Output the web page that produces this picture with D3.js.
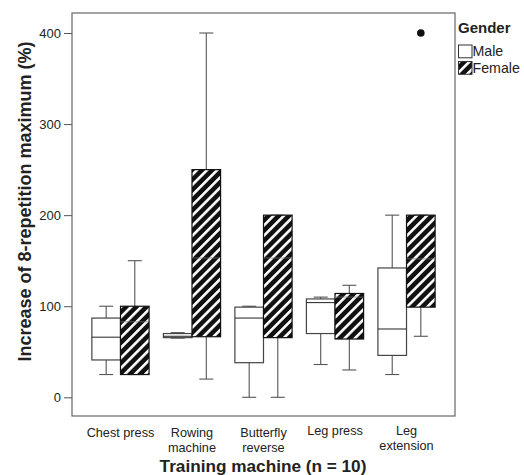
<!DOCTYPE html>
<html>
<head>
<meta charset="utf-8">
<script src="https://cdn.jsdelivr.net/npm/d3@7"></script>
<style>
  body { margin: 0; background: #fff; }
  text { font-family: "Liberation Sans", Arial, sans-serif; fill: #222; }
</style>
</head>
<body>
<svg id="chart" width="524" height="475"></svg>
<script>
const machines = ["Chest press", "Rowing machine", "Butterfly reverse", "Leg press", "Leg extension"];
const machineLabels = [["Chest press"], ["Rowing", "machine"], ["Butterfly", "reverse"], ["Leg press"], ["Leg", "extension"]];
const genders = ["Male", "Female"];
const yTicks = [0, 100, 200, 300, 400];

// [whiskerLow, q1, median, q3, whiskerHigh] per machine
const maleStats = [
  [25, 41, 66, 87, 100],
  [65, 65.5, 67, 70, 71],
  [0, 38, 87, 99, 100],
  [36, 70, 104, 108, 110],
  [25, 46, 75, 142, 200]
];
const femaleStats = [
  [25, 25, 83, 100, 150],
  [20, 66.5, 153, 250, 400],
  [0, 65.5, 153, 200, 200],
  [30, 64, 110, 114, 123],
  [67, 99, 152, 200, 200]
];
const outliers = [{ machine: "Leg extension", gender: "Female", value: 400 }];

const svg = d3.select("#chart");
const mLeft = 72, mRight = 455, mTop = 13, mBottom = 416;

const x = d3.scaleBand().domain(machines).range([mLeft, mRight]).paddingInner(0).paddingOuter(0.178);
const xg = d3.scaleBand().domain(genders).range([0, x.bandwidth() * 0.8]).padding(0);
const y = d3.scaleLinear().domain([0, 400]).range([397.3, 33]);

const defs = svg.append("defs");
const pat = defs.append("pattern")
  .attr("id", "hatch")
  .attr("patternUnits", "userSpaceOnUse")
  .attr("width", 7.2).attr("height", 7.2)
  .attr("patternTransform", "rotate(45)");
pat.append("rect").attr("width", 7.2).attr("height", 7.2).attr("fill", "#111");
pat.append("rect").attr("x", 0).attr("width", 2.6).attr("height", 7.2).attr("fill", "#fff");

// frame
svg.append("rect")
  .attr("x", mLeft).attr("y", mTop)
  .attr("width", mRight - mLeft).attr("height", mBottom - mTop)
  .attr("fill", "none").attr("stroke", "#666").attr("stroke-width", 1.2);

// y axis ticks
const yAxis = svg.append("g")
  .attr("transform", `translate(${mLeft},0)`)
  .call(d3.axisLeft(y).tickValues(yTicks).tickSize(8).tickPadding(3));
yAxis.select(".domain").remove();
yAxis.selectAll(".tick line").attr("stroke", "#555");
yAxis.selectAll(".tick text").style("font-size", "13px").attr("fill", "#333")
  .style("font-family", "Liberation Sans, Arial, sans-serif");

const series = [
  { gender: "Male", stats: maleStats, fill: "#fff", stroke: "#444" },
  { gender: "Female", stats: femaleStats, fill: "url(#hatch)", stroke: "#111" }
];
const bw = xg.bandwidth();
const offset = (x.bandwidth() - x.bandwidth() * 0.8) / 2;

series.forEach(s => {
  const g = svg.append("g");
  const items = g.selectAll("g.box").data(machines.map((m, i) => ({ m, v: s.stats[i] })))
    .join("g")
    .attr("transform", d => `translate(${x(d.m) + offset + xg(s.gender)},0)`);
  // whiskers
  items.append("line")
    .attr("x1", bw / 2).attr("x2", bw / 2)
    .attr("y1", d => y(d.v[4])).attr("y2", d => y(d.v[3]))
    .attr("stroke", "#555").attr("stroke-width", 1.1);
  items.append("line")
    .attr("x1", bw / 2).attr("x2", bw / 2)
    .attr("y1", d => y(d.v[1])).attr("y2", d => y(d.v[0]))
    .attr("stroke", "#555").attr("stroke-width", 1.1);
  items.append("line")
    .attr("x1", bw / 2 - 7).attr("x2", bw / 2 + 7)
    .attr("y1", d => y(d.v[4])).attr("y2", d => y(d.v[4]))
    .attr("stroke", "#555").attr("stroke-width", 1.1);
  items.append("line")
    .attr("x1", bw / 2 - 7).attr("x2", bw / 2 + 7)
    .attr("y1", d => y(d.v[0])).attr("y2", d => y(d.v[0]))
    .attr("stroke", "#555").attr("stroke-width", 1.1);
  // box
  items.append("rect")
    .attr("x", 0).attr("width", bw)
    .attr("y", d => y(d.v[3]))
    .attr("height", d => y(d.v[1]) - y(d.v[3]))
    .attr("fill", s.fill).attr("stroke", s.stroke).attr("stroke-width", 1.2);
  // median
  items.append("line")
    .attr("x1", 0).attr("x2", bw)
    .attr("y1", d => y(d.v[2])).attr("y2", d => y(d.v[2]))
    .attr("stroke", s.gender === "Male" ? "#333" : "#777").attr("stroke-width", 1.1)
    .attr("stroke-opacity", s.gender === "Male" ? 1 : 0.6);
});

// outliers
svg.selectAll("circle.out").data(outliers).join("circle")
  .attr("cx", d => x(d.machine) + offset + xg(d.gender) + bw / 2)
  .attr("cy", d => y(d.value))
  .attr("r", 3.8).attr("fill", "#111");

// x category labels (last two sit a little higher in the original)
const xl = svg.append("g");
machines.forEach((m, i) => {
  const lines = machineLabels[i];
  const cx = x(m) + x.bandwidth() / 2;
  const t = xl.append("text")
    .attr("x", cx)
    .attr("y", i >= 3 ? 435 : 437)
    .attr("text-anchor", "middle")
    .style("font-size", "12.7px").attr("fill", "#333");
  lines.forEach((ln, j) => {
    t.append("tspan").attr("x", cx).attr("dy", j === 0 ? 0 : 15).text(ln);
  });
});

// axis titles
svg.append("text")
  .attr("x", (mLeft + mRight) / 2 - 0.5).attr("y", 472)
  .attr("text-anchor", "middle")
  .style("font-size", "17.2px").style("font-weight", "bold")
  .text("Training machine (n = 10)");

svg.append("text")
  .attr("transform", `translate(30.5,201.5) rotate(-90)`)
  .attr("text-anchor", "middle")
  .style("font-size", "18px").style("font-weight", "bold")
  .text("Increase of 8-repetition maximum (%)");

// legend
const lg = svg.append("g").attr("transform", "translate(458,0)");
lg.append("text").attr("x", 0).attr("y", 33)
  .style("font-size", "15px").style("font-weight", "bold").text("Gender");
const legendFills = ["#fff", "url(#hatch)"];
genders.forEach((gname, i) => {
  lg.append("rect")
    .attr("x", 0.5).attr("y", 45 + i * 16.5)
    .attr("width", 13.5).attr("height", 12.8)
    .attr("fill", legendFills[i]).attr("stroke", "#333").attr("stroke-width", 1);
  lg.append("text").attr("x", 14.5).attr("y", 56 + i * 16.5)
    .style("font-size", "14.2px").attr("fill", "#333").text(gname);
});
</script>
</body>
</html>
